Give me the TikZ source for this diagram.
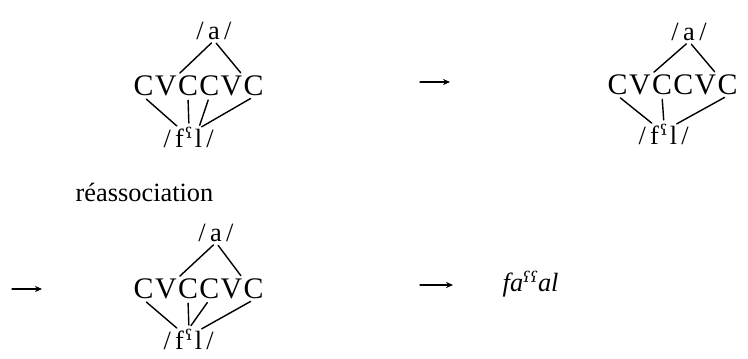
\documentclass[tikz,border=0pt]{standalone}
\usepackage{fontspec}
\setmainfont{Liberation Serif}
\newfontfamily\ipafont{DejaVu Serif}
\usetikzlibrary{positioning,arrows.meta}
\tikzset{
	seg/.style={inner sep=0pt,font=\fontsize{17}{20}\selectfont},
	mel/.style={inner sep=0pt,font=\fontsize{15}{18}\selectfont},
	assoc/.style={shorten <=2pt,shorten >=2pt},
	fleche/.style={-{Stealth[length=4pt,width=3.5pt]},line width=0.6pt}
}
\newcommand{\pharyng}{{\ipafont ˤ}}
% squelette CVCCVC
\newcommand{\gabarit}[2]{%
	\node[seg,anchor=west] (#1c1) at #2 {C};
	\node[seg,base right=0pt of #1c1] (#1v1) {V};
	\node[seg,base right=0pt of #1v1] (#1c2) {C};
	\node[seg,base right=0pt of #1c2] (#1c3) {C};
	\node[seg,base right=0pt of #1c3] (#1v2) {V};
	\node[seg,base right=0pt of #1v2] (#1c4) {C};}
% melodie consonantique
\newcommand{\racine}[2]{%
	\node[mel,anchor=west] (#1s1) at #2 {/};
	\node[mel,base right=1.5pt of #1s1] (#1f) {f};
	\node[mel,base right=0pt of #1f] (#1h) {\pharyng};
	\node[mel,base right=0.5pt of #1h] (#1l) {l};
	\node[mel,base right=1.5pt of #1l] (#1s2) {/};}
\begin{document}
\begin{tikzpicture}[line join=round,line cap=round,line width=0.8pt]
	\useasboundingbox (0,0) rectangle (14.96,-7.16);
	
	% avant
	\node[mel] (a1) at (4.28,-0.62) {/\,a\,/};
	\gabarit{g1}{(2.66,-1.72)}
	\racine{r1}{(3.26,-2.78)}
	\draw[assoc] (a1.south) -- (g1v1.north east);
	\draw[assoc] (a1.south) -- (g1v2.north east);
	\draw[assoc] (g1c1.south) -- (r1f.north);
	\draw[assoc] (g1c2.south) -- (r1h.north);
	\draw[assoc] (g1c3.south) -- (r1l.north);
	\draw[assoc] (g1c4.south) -- (r1l.north);
	
	\coordinate (p1) at (8.4,-1.64);
	\coordinate (q1) at (9.0,-1.64);
	\draw[fleche] (p1) -- (q1);
	
	% desassociation
	\node[mel] (a2) at (13.78,-0.64) {/\,a\,/};
	\gabarit{g2}{(12.14,-1.70)}
	\racine{r2}{(12.76,-2.72)}
	\draw[assoc] (a2.south) -- (g2v1.north east);
	\draw[assoc] (a2.south) -- (g2v2.north east);
	\draw[assoc] (g2c1.south) -- (r2f.north);
	\draw[assoc] (g2c2.south) -- (r2h.north);
	\draw[assoc] (g2c4.south) -- (r2l.north);
	
	\node[mel,anchor=west] (reasso) at (1.5,-3.84) {réassociation};
	
	\coordinate (p2) at (0.24,-5.78);
	\coordinate (q2) at (0.84,-5.78);
	\draw[fleche] (p2) -- (q2);
	
	% apres
	\node[mel] (a3) at (4.32,-4.66) {/\,a\,/};
	\gabarit{g3}{(2.66,-5.78)}
	\racine{r3}{(3.26,-6.82)}
	\draw[assoc] (a3.south) -- (g3v1.north east);
	\draw[assoc] (a3.south) -- (g3v2.north east);
	\draw[assoc] (g3c1.south) -- (r3f.north);
	\draw[assoc] (g3c2.south) -- (r3h.north);
	\draw[assoc] (g3c3.south) -- (r3h.north);
	\draw[assoc] (g3c4.south) -- (r3l.north);
	
	\coordinate (p3) at (8.4,-5.70);
	\coordinate (q3) at (9.06,-5.70);
	\draw[fleche] (p3) -- (q3);
	\node[mel,anchor=west,font=\fontsize{15}{18}\selectfont\itshape] (forme) at (10.04,-5.68) {fa{\ipafont ˤˤ}al};
\end{tikzpicture}
\end{document}
